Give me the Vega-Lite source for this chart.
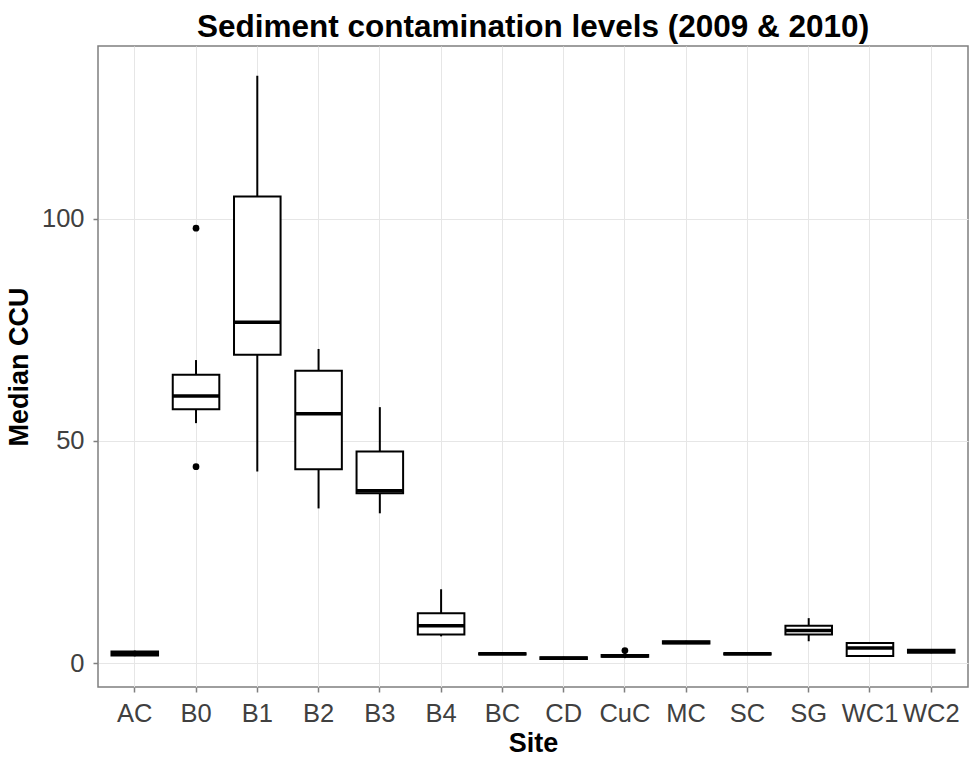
{
  "$schema": "https://vega.github.io/schema/vega-lite/v6.json",
  "width": 870,
  "height": 641,
  "autosize": {"type": "none"},
  "padding": {"left": 98, "top": 46, "right": 1, "bottom": 70},
  "background": "white",
  "title": {
    "text": "Sediment contamination levels (2009 & 2010)",
    "fontSize": 31.5,
    "fontWeight": "bold",
    "font": "Liberation Sans",
    "color": "black",
    "anchor": "middle",
    "offset": 3
  },
  "datasets": {
    "boxes": [
      {"site": "AC", "lower": 1.5, "q1": 1.7, "median": 2.2, "q3": 2.6, "upper": 2.8},
      {"site": "B0", "lower": 54.0, "q1": 57.1, "median": 60.1, "q3": 64.9, "upper": 68.2},
      {"site": "B1", "lower": 43.1, "q1": 69.4, "median": 76.7, "q3": 105.0, "upper": 132.2},
      {"site": "B2", "lower": 34.8, "q1": 43.6, "median": 56.1, "q3": 65.8, "upper": 70.7},
      {"site": "B3", "lower": 33.7, "q1": 38.2, "median": 38.8, "q3": 47.6, "upper": 57.6},
      {"site": "B4", "lower": 6.0, "q1": 6.4, "median": 8.4, "q3": 11.2, "upper": 16.6},
      {"site": "BC", "lower": 1.8, "q1": 1.9, "median": 2.1, "q3": 2.2, "upper": 2.3},
      {"site": "CD", "lower": 0.8, "q1": 0.9, "median": 1.1, "q3": 1.3, "upper": 1.4},
      {"site": "CuC", "lower": 1.1, "q1": 1.4, "median": 1.6, "q3": 1.8, "upper": 2.2},
      {"site": "MC", "lower": 4.3, "q1": 4.4, "median": 4.6, "q3": 4.9, "upper": 5.0},
      {"site": "SC", "lower": 1.8, "q1": 1.9, "median": 2.1, "q3": 2.2, "upper": 2.3},
      {"site": "SG", "lower": 4.9, "q1": 6.4, "median": 7.3, "q3": 8.4, "upper": 10.1},
      {"site": "WC1", "lower": 1.5, "q1": 1.6, "median": 3.4, "q3": 4.5, "upper": 4.7},
      {"site": "WC2", "lower": 2.2, "q1": 2.3, "median": 2.7, "q3": 3.0, "upper": 3.1}
    ],
    "outliers": [
      {"site": "B0", "value": 97.9},
      {"site": "B0", "value": 44.2},
      {"site": "CuC", "value": 2.8}
    ]
  },
  "config": {
    "font": "Liberation Sans",
    "view": {"stroke": "#7f7f7f", "strokeWidth": 1.5},
    "axis": {
      "domain": false,
      "labelFont": "Liberation Sans",
      "labelFontSize": 25.5,
      "labelColor": "#404040",
      "tickColor": "#7f7f7f",
      "tickSize": 5,
      "tickWidth": 1.5,
      "gridColor": "#e6e6e6",
      "gridWidth": 1,
      "titleFont": "Liberation Sans",
      "titleFontSize": 27,
      "titleFontWeight": "bold",
      "titleColor": "black"
    }
  },
  "encoding": {
    "x": {
      "field": "site",
      "type": "nominal",
      "sort": ["AC", "B0", "B1", "B2", "B3", "B4", "BC", "CD", "CuC", "MC", "SC", "SG", "WC1", "WC2"],
      "scale": {"paddingInner": 0, "paddingOuter": 0.1},
      "axis": {"title": "Site", "labelAngle": 0, "labelPadding": 9, "titlePadding": 4, "grid": true, "bandPosition": 0.5}
    }
  },
  "layer": [
    {
      "data": {"name": "boxes"},
      "mark": {"type": "rule", "color": "black", "strokeWidth": 2},
      "encoding": {
        "y": {
          "field": "lower",
          "type": "quantitative",
          "scale": {"domain": [-5.4, 138.9], "nice": false, "zero": false},
          "axis": {"title": "Median CCU", "values": [0, 50, 100], "grid": true, "labelPadding": 9, "titlePadding": 8}
        },
        "y2": {"field": "upper"}
      }
    },
    {
      "data": {"name": "boxes"},
      "mark": {"type": "bar", "fill": "white", "stroke": "black", "strokeWidth": 2, "width": {"band": 0.76}},
      "encoding": {
        "y": {"field": "q1", "type": "quantitative"},
        "y2": {"field": "q3"}
      }
    },
    {
      "data": {"name": "boxes"},
      "mark": {"type": "tick", "color": "black", "size": 47, "thickness": 3.5, "opacity": 1},
      "encoding": {
        "y": {"field": "median", "type": "quantitative"}
      }
    },
    {
      "data": {"name": "outliers"},
      "mark": {"type": "point", "filled": true, "color": "black", "size": 45, "opacity": 1},
      "encoding": {
        "y": {"field": "value", "type": "quantitative"}
      }
    }
  ]
}
